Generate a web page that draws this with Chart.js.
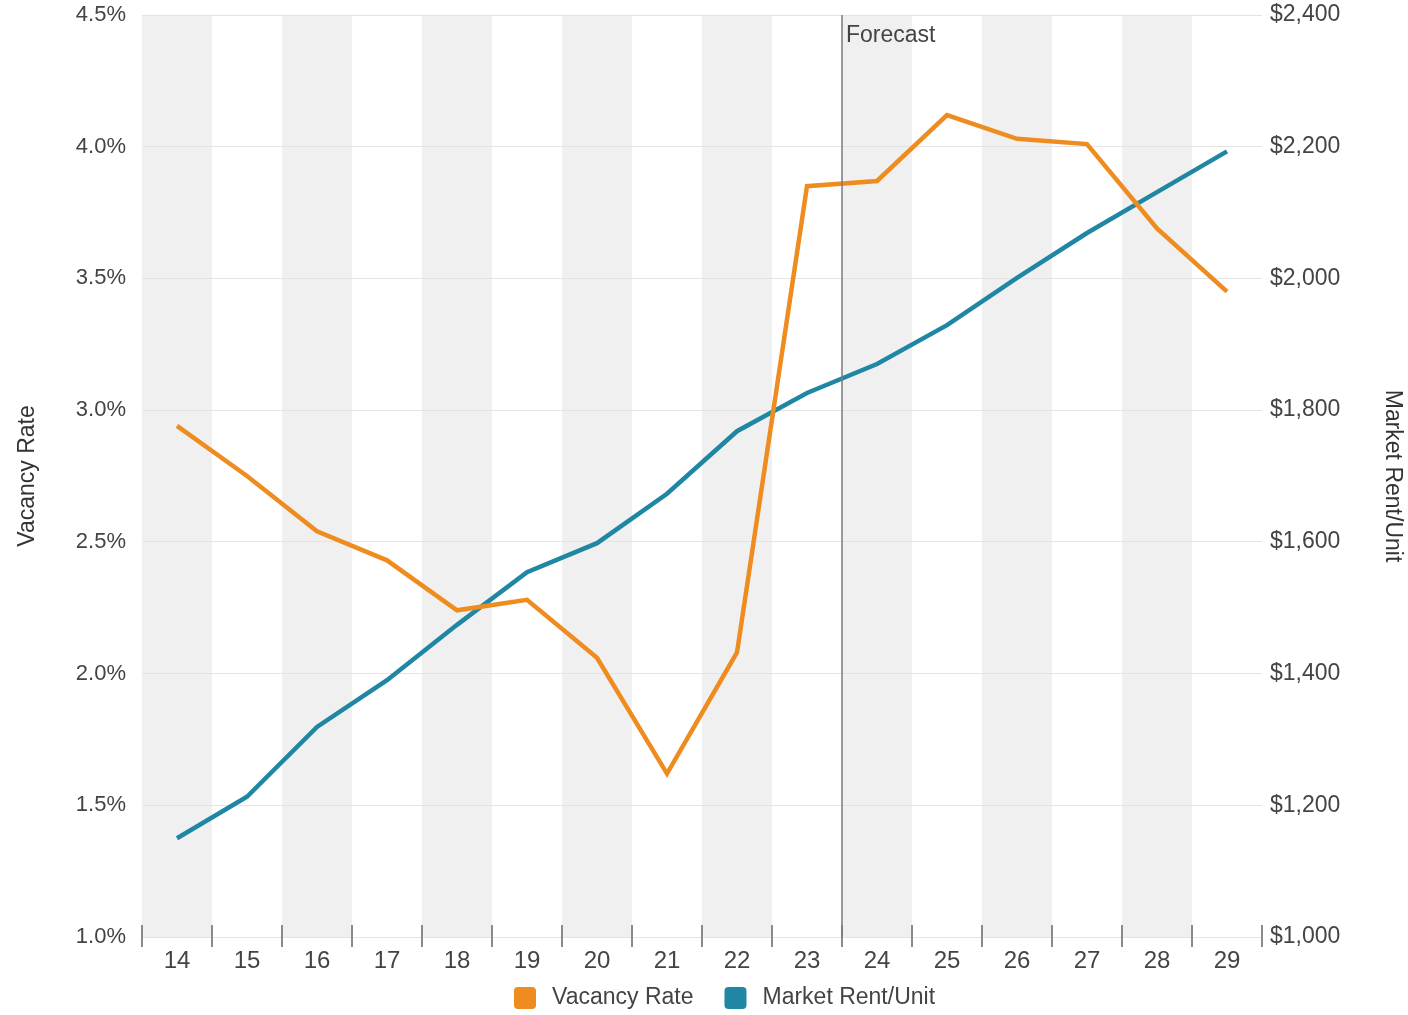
<!DOCTYPE html>
<html>
<head>
<meta charset="utf-8">
<script src="https://cdn.jsdelivr.net/npm/chart.js@4/dist/chart.umd.min.js"></script>
<style>
  html, body { margin: 0; padding: 0; background: #fff; }
  #wrap { width: 1408px; height: 1015px; }
</style>
</head>
<body>
<div id="wrap"><canvas id="chart"></canvas></div>
<script>
const years = ['14', '15', '16', '17', '18', '19', '20', '21', '22', '23', '24', '25', '26', '27', '28', '29'];
const vacancyRate = [2.94, 2.75, 2.54, 2.43, 2.24, 2.28, 2.06, 1.62, 2.08, 3.85, 3.87, 4.12, 4.03, 4.01, 3.69, 3.45];
const marketRent = [1150, 1213, 1319, 1390, 1474, 1554, 1598, 1673, 1768, 1826, 1870, 1929, 2001, 2069, 2131, 2193];
const forecastAfter = '23';

const ORANGE = '#ef8c1f';
const TEAL = '#1f86a3';
const FONT = "'Liberation Sans', Arial, sans-serif";

// alternating grey columns, boundary ticks, forecast divider and legend
const backdrop = {
    id: 'backdrop',
    beforeDraw(chart) {
        const { ctx, chartArea: a, scales: { x } } = chart;
        const half = (x.getPixelForValue(1) - x.getPixelForValue(0)) / 2;
        ctx.save();
        ctx.fillStyle = '#f0f0f0';
        years.forEach((y, i) => {
            if (i % 2 === 0) {
                const c = x.getPixelForValue(i);
                ctx.fillRect(c - half, a.top, half * 2, a.bottom - a.top);
            }
        });
        ctx.restore();
    },
    afterDraw(chart) {
        const { ctx, chartArea: a, scales: { x } } = chart;
        const half = (x.getPixelForValue(1) - x.getPixelForValue(0)) / 2;
        ctx.save();
        ctx.strokeStyle = '#8a8a8a';
        ctx.lineWidth = 2;
        for (let i = 0; i <= years.length; i++) {
            const px = Math.round(x.getPixelForValue(0) - half + i * half * 2);
            ctx.beginPath();
            ctx.moveTo(px, a.bottom - 12);
            ctx.lineTo(px, a.bottom + 10);
            ctx.stroke();
        }
        const fx = x.getPixelForValue(years.indexOf(forecastAfter)) + half;
        ctx.strokeStyle = '#7a7a7a';
        ctx.lineWidth = 1.5;
        ctx.beginPath();
        ctx.moveTo(fx, a.top);
        ctx.lineTo(fx, a.bottom);
        ctx.stroke();
        ctx.fillStyle = '#444';
        ctx.font = '23px ' + FONT;
        ctx.textBaseline = 'middle';
        ctx.fillText('Forecast', fx + 4, a.top + 21);

        // legend
        let lx = 514;
        const ly = 998;
        chart.data.datasets.forEach(d => {
            ctx.fillStyle = d.borderColor;
            ctx.beginPath();
            ctx.roundRect(lx, ly - 11, 22, 22, 4);
            ctx.fill();
            ctx.fillStyle = '#444';
            ctx.fillText(d.label, lx + 38, ly);
            lx += 38 + ctx.measureText(d.label).width + 31;
        });
        ctx.restore();
    }
};

new Chart(document.getElementById('chart'), {
    type: 'line',
    data: {
        labels: years,
        datasets: [{
            label: 'Vacancy Rate',
            data: vacancyRate,
            borderColor: ORANGE,
            backgroundColor: ORANGE,
            borderWidth: 4.5,
            pointRadius: 0,
            tension: 0,
            yAxisID: 'y'
        }, {
            label: 'Market Rent/Unit',
            data: marketRent,
            borderColor: TEAL,
            backgroundColor: TEAL,
            borderWidth: 4.5,
            pointRadius: 0,
            tension: 0,
            yAxisID: 'y1'
        }]
    },
    options: {
        responsive: true,
        maintainAspectRatio: false,
        animation: false,
        layout: { padding: { top: 15, bottom: 0, left: 0, right: 0 } },
        plugins: {
            tooltip: { enabled: false },
            legend: { display: false }
        },
        scales: {
            x: {
                offset: true,
                grid: { display: false, drawTicks: false },
                border: { display: false },
                ticks: { font: { family: FONT, size: 24 }, color: '#444', padding: 10, maxRotation: 0 },
                afterFit(s) { s.height = 78; }
            },
            y: {
                position: 'left',
                min: 1, max: 4.5,
                grid: { color: '#e4e4e4', lineWidth: 1, drawTicks: false },
                border: { display: false },
                ticks: {
                    stepSize: 0.5,
                    padding: 16,
                    font: { family: FONT, size: 22 },
                    color: '#444',
                    callback: v => v.toFixed(1) + '%'
                },
                title: {
                    display: true,
                    text: 'Vacancy Rate',
                    font: { family: FONT, size: 23 },
                    color: '#333',
                    padding: { top: 14, bottom: 0 }
                },
                afterFit(s) { s.width = 142; s.paddingTop = 0; s.paddingBottom = 0; }
            },
            y1: {
                position: 'right',
                min: 1000, max: 2400,
                grid: { drawOnChartArea: false, drawTicks: false },
                border: { display: false },
                ticks: {
                    stepSize: 200,
                    padding: 8,
                    font: { family: FONT, size: 23 },
                    color: '#444',
                    callback: v => '$' + v.toLocaleString('en-US')
                },
                title: {
                    display: true,
                    text: 'Market Rent/Unit',
                    font: { family: FONT, size: 23 },
                    color: '#333',
                    padding: { top: 2, bottom: 0 }
                },
                afterFit(s) { s.width = 146; s.paddingTop = 0; s.paddingBottom = 0; }
            }
        }
    },
    plugins: [backdrop]
});
</script>
</body>
</html>
